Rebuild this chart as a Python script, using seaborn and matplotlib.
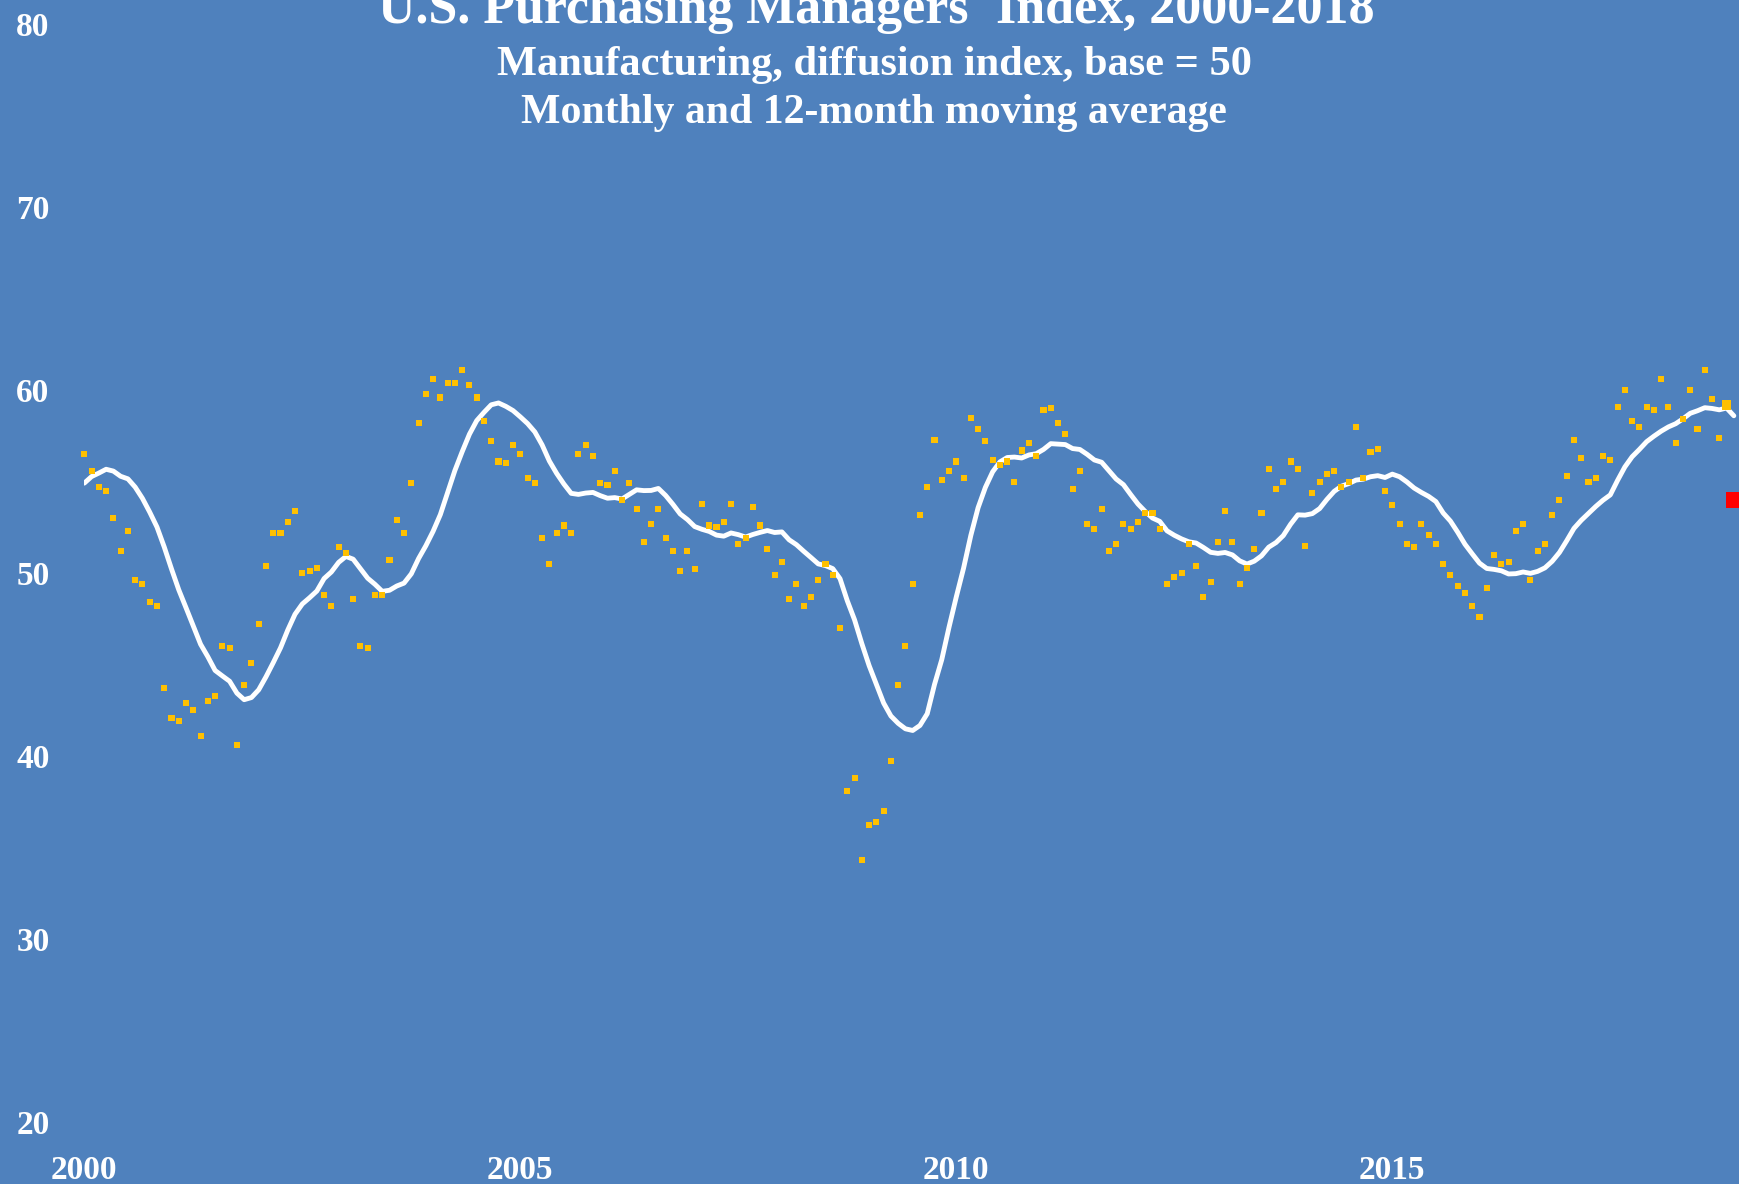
import numpy as np
import pandas as pd
import matplotlib
matplotlib.use("Agg")
import matplotlib.pyplot as plt
import seaborn as sns

# ---------------- data ----------------
years = list(range(2000, 2019))
pmi_2000 = [56.5, 55.6, 54.7, 54.5, 53.0, 51.2, 52.3, 49.6, 49.4, 48.4, 48.2, 43.7]
pmi_2001 = [42.1, 41.9, 42.9, 42.5, 41.1, 43.0, 43.3, 46.0, 45.9, 40.6, 43.9, 45.1]
pmi_2002 = [47.2, 50.4, 52.2, 52.2, 52.8, 53.4, 50.0, 50.1, 50.3, 48.8, 48.2, 51.4]
pmi_2003 = [51.1, 48.6, 46.0, 45.9, 48.8, 48.8, 50.7, 52.9, 52.2, 54.9, 58.2, 59.8]
pmi_2004 = [60.6, 59.6, 60.4, 60.4, 61.1, 60.3, 59.6, 58.3, 57.2, 56.1, 56.0, 57.0]
pmi_2005 = [56.5, 55.2, 54.9, 51.9, 50.5, 52.2, 52.6, 52.2, 56.5, 57.0, 56.4, 54.9]
pmi_2006 = [54.8, 55.6, 54.0, 54.9, 53.5, 51.7, 52.7, 53.5, 51.9, 51.2, 50.1, 51.2]
pmi_2007 = [50.2, 53.8, 52.6, 52.5, 52.8, 53.8, 51.6, 51.9, 53.6, 52.6, 51.3, 49.9]
pmi_2008 = [50.6, 48.6, 49.4, 48.2, 48.7, 49.6, 50.5, 49.9, 47.0, 38.1, 38.8, 34.3]
pmi_2009 = [36.2, 36.4, 37.0, 39.7, 43.9, 46.0, 49.4, 53.2, 54.7, 57.3, 55.1, 55.6]
pmi_2010 = [56.1, 55.2, 58.5, 57.9, 57.2, 56.2, 55.9, 56.1, 55.0, 56.7, 57.1, 56.4]
pmi_2011 = [58.9, 59.0, 58.2, 57.6, 54.6, 55.6, 52.7, 52.4, 53.5, 51.2, 51.6, 52.7]
pmi_2012 = [52.4, 52.8, 53.3, 53.3, 52.4, 49.4, 49.8, 50.0, 51.6, 50.4, 48.7, 49.5]
pmi_2013 = [51.7, 53.4, 51.7, 49.4, 50.3, 51.3, 53.3, 55.7, 54.6, 55.0, 56.1, 55.7]
pmi_2014 = [51.5, 54.4, 55.0, 55.4, 55.6, 54.7, 55.0, 58.0, 55.2, 56.6, 56.8, 54.5]
pmi_2015 = [53.7, 52.7, 51.6, 51.4, 52.7, 52.1, 51.6, 50.5, 49.9, 49.3, 48.9, 48.2]
pmi_2016 = [47.6, 49.2, 51.0, 50.5, 50.6, 52.3, 52.7, 49.6, 51.2, 51.6, 53.2, 54.0]
pmi_2017 = [55.3, 57.3, 56.3, 55.0, 55.2, 56.4, 56.2, 59.1, 60.0, 58.3, 58.0, 59.1]
pmi_2018 = [58.9, 60.6, 59.1, 57.1, 58.4, 60.0, 57.9, 61.1, 59.5, 57.4, 59.2, 54.0]
# Feb-Dec 1999: look-back months for the trailing 12-month average (inferred from the line's start)
pmi_1999_tail = [51.3, 52.4, 52.0, 54.2, 54.6, 54.0, 55.0, 56.8, 57.4, 58.0, 56.8]

xticks = [2000, 2005, 2010, 2015]
xtick_labels = ["2000", "2005", "2010", "2015"]
yticks = [20, 30, 40, 50, 60, 70, 80]

title = "U.S. Purchasing Managers' Index, 2000-2018"
subtitle1 = "Manufacturing, diffusion index, base = 50"
subtitle2 = "Monthly and 12-month moving average"

# ---------------- build table ----------------
monthly = (pmi_2000 + pmi_2001 + pmi_2002 + pmi_2003 + pmi_2004 + pmi_2005 + pmi_2006 +
           pmi_2007 + pmi_2008 + pmi_2009 + pmi_2010 + pmi_2011 + pmi_2012 + pmi_2013 +
           pmi_2014 + pmi_2015 + pmi_2016 + pmi_2017 + pmi_2018)
t = [y + m / 12 for y in years for m in range(12)]
df = pd.DataFrame({"t": t, "pmi": monthly})
df["ma12"] = pd.Series(pmi_1999_tail + monthly).rolling(12).mean().iloc[11:].to_numpy()

# ---------------- style ----------------
BG = "#4F81BD"
GOLD = "#FFC000"
sns.set_theme(style="white")
plt.rcParams["font.family"] = ["Liberation Serif", "DejaVu Serif"]

W, H = 1739, 1184
fig = plt.figure(figsize=(W / 100, H / 100), dpi=100, facecolor=BG)
x0, ytop, ybot = 84.3, 24.4, 1121.7
ax = fig.add_axes([x0 / W, (H - ybot) / H, (W - x0) / W, (ybot - ytop) / H])
ax.set_facecolor(BG)

sns.lineplot(data=df, x="t", y="ma12", color="white", linewidth=3.5, ax=ax, zorder=2)
sns.scatterplot(data=df.iloc[:-2], x="t", y="pmi", marker="s", s=19, color=GOLD,
                edgecolor="none", linewidth=0, ax=ax, zorder=3, clip_on=False)
sns.scatterplot(data=df.iloc[[-2]], x="t", y="pmi", marker="s", s=47, color=GOLD,
                edgecolor="none", linewidth=0, ax=ax, zorder=4, clip_on=False)
sns.scatterplot(data=df.iloc[[-1]], x="t", y="pmi", marker="s", s=126, color="#FF0000",
                edgecolor="none", linewidth=0, ax=ax, zorder=4, clip_on=False)

ax.set_xlim(2000, 2000 + (W - x0) / 87.2)
ax.set_ylim(20, 80)
ax.set_xticks(xticks)
ax.set_xticklabels(xtick_labels)
ax.set_yticks(yticks)
ax.set_yticklabels([str(v) for v in yticks])
ax.set_xlabel("")
ax.set_ylabel("")
for s in ax.spines.values():
    s.set_visible(False)
ax.grid(False)
ax.tick_params(axis="both", length=0, colors="white", labelsize=24)
ax.tick_params(axis="y", pad=25)
ax.tick_params(axis="x", pad=24)
for lab in ax.get_xticklabels() + ax.get_yticklabels():
    lab.set_fontweight("bold")

# ---------------- titles, fitted to the reference widths ----------------
renderer = fig.canvas.get_renderer()
def fitted_text(s, xc, ybase, width_px, start=28):
    txt = fig.text(xc / W, (H - ybase) / H, s, ha="center", va="baseline",
                   color="white", fontweight="bold", fontsize=start)
    w = txt.get_window_extent(renderer=renderer).width
    txt.set_fontsize(start * width_px / w)
    return txt

fitted_text(title, 876, 23, 998, 34)
fitted_text(subtitle1, 874, 75, 756, 26)
fitted_text(subtitle2, 874, 122.5, 706, 26)

fig.savefig("out.png", dpi=100, facecolor=BG)
